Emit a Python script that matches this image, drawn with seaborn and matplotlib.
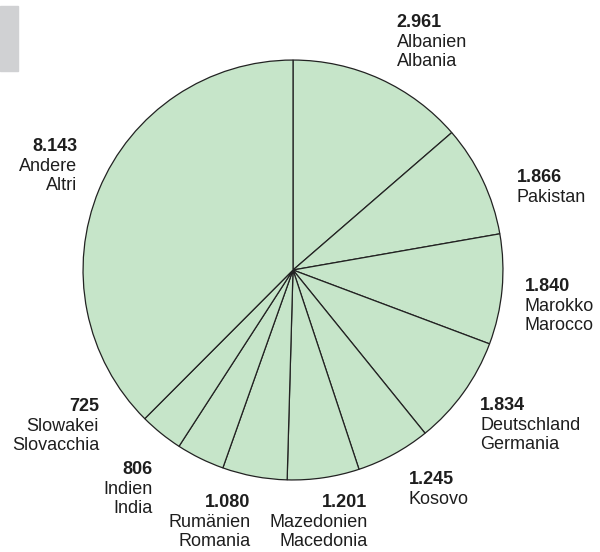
import matplotlib
matplotlib.use("Agg")
import matplotlib.pyplot as plt
from matplotlib.patches import Rectangle
import seaborn as sns

# data
names_de = ["Albanien", "Pakistan", "Marokko", "Deutschland", "Kosovo",
            "Mazedonien", "Rumänien", "Indien", "Slowakei", "Andere"]
names_it = ["Albania", "", "Marocco", "Germania", "",
            "Macedonia", "Romania", "India", "Slovacchia", "Altri"]
values = [2961, 1866, 1840, 1834, 1245, 1201, 1080, 806, 725, 8143]

# label layout (pie radius units) and alignment
label_x = [0.493, 1.066, 1.104, 0.891, 0.550, 0.355, -0.204, -0.668, -0.924, -1.028]
label_y = [1.218, 0.483, -0.038, -0.607, -0.957, -1.066, -1.066, -0.910, -0.611, 0.630]
label_ha = ["left", "left", "left", "left", "left",
            "right", "right", "right", "right", "right"]

sns.set_theme(style="white")
plt.rcParams["font.family"] = ["Liberation Sans", "DejaVu Sans"]

W, H = 600, 552
cx, cy, r = 293, 270, 211
fig = plt.figure(figsize=(W / 100, H / 100), dpi=100)
fig.patches.append(Rectangle((0, (H - 71) / H), 18 / W, 65 / H,
                             transform=fig.transFigure, color="#d0d1d3"))

ax = fig.add_axes([(cx - r) / W, (H - cy - r) / H, 2 * r / W, 2 * r / H])
green = "#c6e5c9"
ax.pie(values, startangle=90, counterclock=False, colors=[green] * len(values),
       wedgeprops=dict(edgecolor="#222222", linewidth=0.9))
ax.set_xlim(-1.005, 1.005)
ax.set_ylim(-1.005, 1.005)
ax.axis("off")

txt_color = "#1e1e1e"
for i, v in enumerate(values):
    num = f"{v:,}".replace(",", ".")
    ax.text(label_x[i], label_y[i], num, ha=label_ha[i], va="top",
            fontsize=13, fontweight="bold", color=txt_color, clip_on=False)
    lines = names_de[i] if not names_it[i] else names_de[i] + "\n" + names_it[i]
    ax.annotate(lines, xy=(label_x[i], label_y[i]), xytext=(0, -14.4),
                textcoords="offset points", ha=label_ha[i], va="top",
                multialignment=label_ha[i], fontsize=13, color=txt_color,
                linespacing=1.15, annotation_clip=False)

fig.savefig("out.png", dpi=100)
